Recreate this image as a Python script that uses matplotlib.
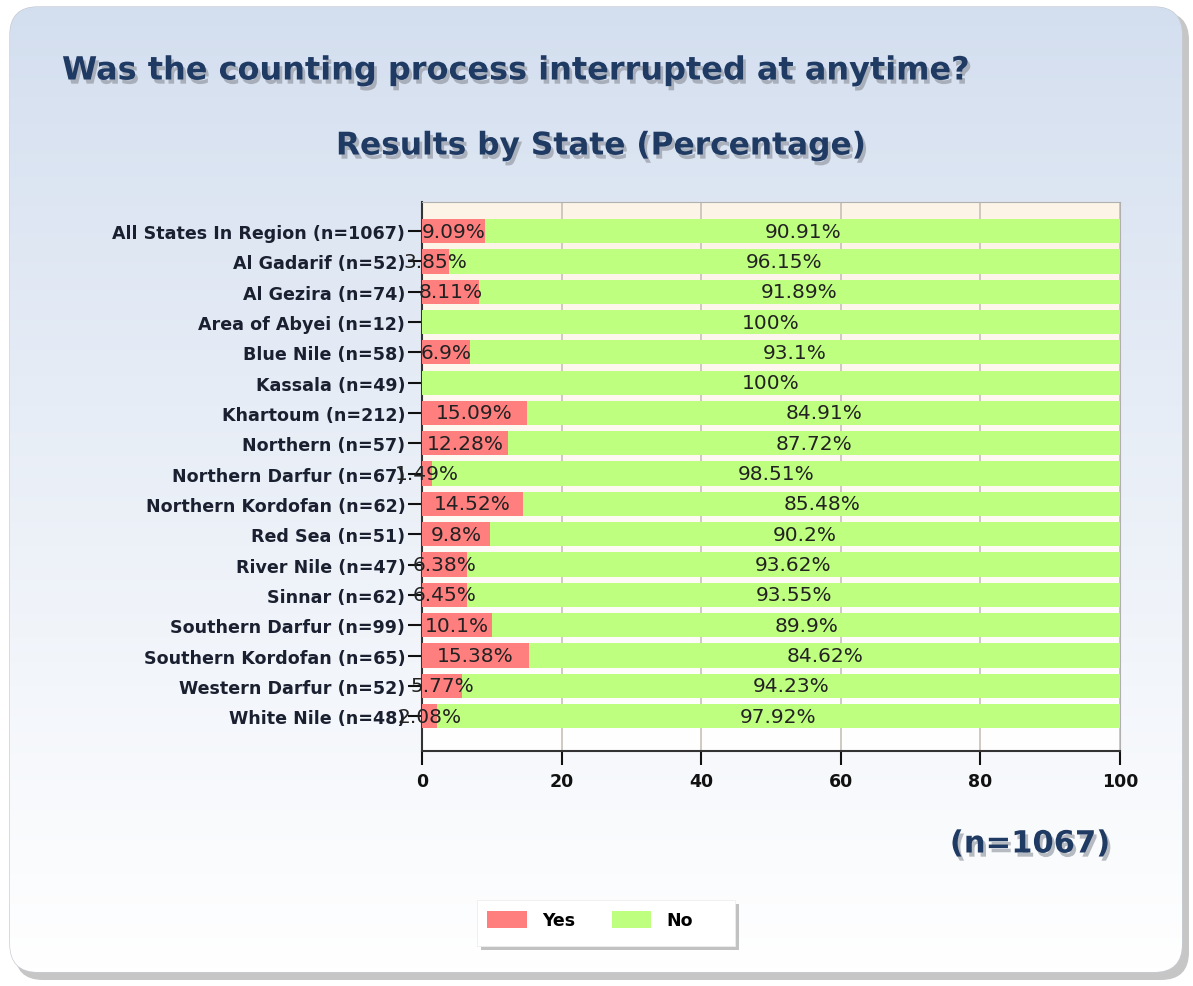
import numpy as np
import matplotlib.pyplot as plt
from matplotlib.patches import FancyBboxPatch, Rectangle
import matplotlib.patheffects as pe

states = ["All States In Region (n=1067)", "Al Gadarif (n=52)", "Al Gezira (n=74)",
          "Area of Abyei (n=12)", "Blue Nile (n=58)", "Kassala (n=49)",
          "Khartoum (n=212)", "Northern (n=57)", "Northern Darfur (n=67)",
          "Northern Kordofan (n=62)", "Red Sea (n=51)", "River Nile (n=47)",
          "Sinnar (n=62)", "Southern Darfur (n=99)", "Southern Kordofan (n=65)",
          "Western Darfur (n=52)", "White Nile (n=48)"]
yes = [9.09, 3.85, 8.11, 0, 6.9, 0, 15.09, 12.28, 1.49, 14.52, 9.8, 6.38, 6.45,
       10.1, 15.38, 5.77, 2.08]
no = [90.91, 96.15, 91.89, 100, 93.1, 100, 84.91, 87.72, 98.51, 85.48, 90.2,
      93.62, 93.55, 89.9, 84.62, 94.23, 97.92]

navy = "#1f3a63"
red = "#ff7f7f"
green = "#bfff7f"

fig = plt.figure(figsize=(11.93, 9.87), dpi=100)

# background panel with gradient
bg = fig.add_axes([0, 0, 1, 1])
bg.set_xlim(0, 1193)
bg.set_ylim(987, 0)
bg.axis("off")
shadow = FancyBboxPatch((15, 13), 1174, 968, boxstyle="round,pad=0,rounding_size=28",
                        fc="#a0a0a0", ec="none", alpha=0.6, zorder=-2)
bg.add_patch(shadow)
panel = FancyBboxPatch((10, 8), 1172, 965, boxstyle="round,pad=0,rounding_size=28",
                       fc="white", ec="#c8ccd4", lw=1, zorder=-1)
bg.add_patch(panel)
grad = np.linspace(0, 1, 256).reshape(-1, 1)
top_c = np.array([0.827, 0.871, 0.937])
bot_c = np.array([1.0, 1.0, 1.0])
img = top_c + (bot_c - top_c) * grad[:, :, None] ** 0.9
im = bg.imshow(img, extent=(10, 1182, 973, 8), aspect="auto", zorder=0)
im.set_clip_path(panel)

# title texts
shadow_fx = [pe.withSimplePatchShadow(offset=(2, -3), shadow_rgbFace="#8a8f99", alpha=0.6)]
bg.text(62, 72, "Was the counting process interrupted at anytime?", fontsize=23,
        fontweight="bold", color=navy, va="center", ha="left", path_effects=shadow_fx)
bg.text(601, 147, "Results by State (Percentage)", fontsize=22.5, fontweight="bold",
        color=navy, va="center", ha="center", path_effects=shadow_fx)
bg.text(1110, 845, "(n=1067)", fontsize=22, fontweight="bold", color=navy,
        va="center", ha="right", path_effects=shadow_fx)

# plot area
ax = fig.add_axes([422 / 1193, 1 - 752 / 987, 698 / 1193, 549 / 987])
ax.set_zorder(2)
pgrad = np.linspace(0, 1, 256).reshape(-1, 1)
pc_top = np.array([0.992, 0.957, 0.906])
pc_bot = np.array([1.0, 1.0, 1.0])
pimg = pc_top + (pc_bot - pc_top) * pgrad[:, :, None]
ax.imshow(pimg, extent=(0, 100, 17.15, -0.96), aspect="auto", zorder=0)

y = np.arange(len(states))
ax.barh(y, yes, height=0.8, color=red, label="Yes", zorder=3)
ax.barh(y, no, left=yes, height=0.8, color=green, label="No", zorder=3)

for i in range(len(states)):
    if yes[i] > 0:
        ax.text(yes[i] / 2, y[i], f"{yes[i]:g}%", ha="center", va="center",
                fontsize=14.5, color="#222222", zorder=4)
    ax.text(yes[i] + no[i] / 2, y[i], f"{no[i]:g}%", ha="center", va="center",
            fontsize=14.5, color="#222222", zorder=4)

ax.set_xlim(0, 100)
ax.set_ylim(16 + 1.15, -0.96)
ax.set_xticks([0, 20, 40, 60, 80, 100])
ax.set_yticks(y)
ax.set_yticklabels(states, fontsize=12.6, fontweight="bold", color="#1a2030")
ax.tick_params(axis="x", labelsize=12.5, length=10, width=1.5, colors="#111111", pad=5)
for lab in ax.get_xticklabels():
    lab.set_fontweight("bold")
ax.tick_params(axis="y", length=10, width=1.5, colors="#111111", pad=2)
for lab in ax.get_yticklabels():
    lab.set_color("#1a2030")
ax.grid(axis="x", color="#c8c0b8", lw=1.2, zorder=1)
ax.set_axisbelow(True)
for s in ["top", "right"]:
    ax.spines[s].set_color("#b0b0b0")
ax.spines["left"].set_color("#333333")
ax.spines["left"].set_linewidth(1.5)
ax.spines["bottom"].set_color("#333333")
ax.spines["bottom"].set_linewidth(1.5)

# legend box
bg.add_patch(Rectangle((481, 905), 258, 46, fc="#9a9a9a", ec="none", alpha=0.6, zorder=1))
bg.add_patch(Rectangle((477, 901), 258, 46, fc="white", ec="#eeeeee", lw=0.6, zorder=2))
leg = ax.legend(loc="center", bbox_to_anchor=(590 / 1193, 1 - 921 / 987),
                bbox_transform=fig.transFigure, ncol=2, frameon=False,
                fontsize=12.5, handlelength=2.3, handleheight=1.15, columnspacing=2.1,
                handletextpad=0.85)
for t in leg.get_texts():
    t.set_fontweight("bold")

fig.savefig("out.png", dpi=100)
